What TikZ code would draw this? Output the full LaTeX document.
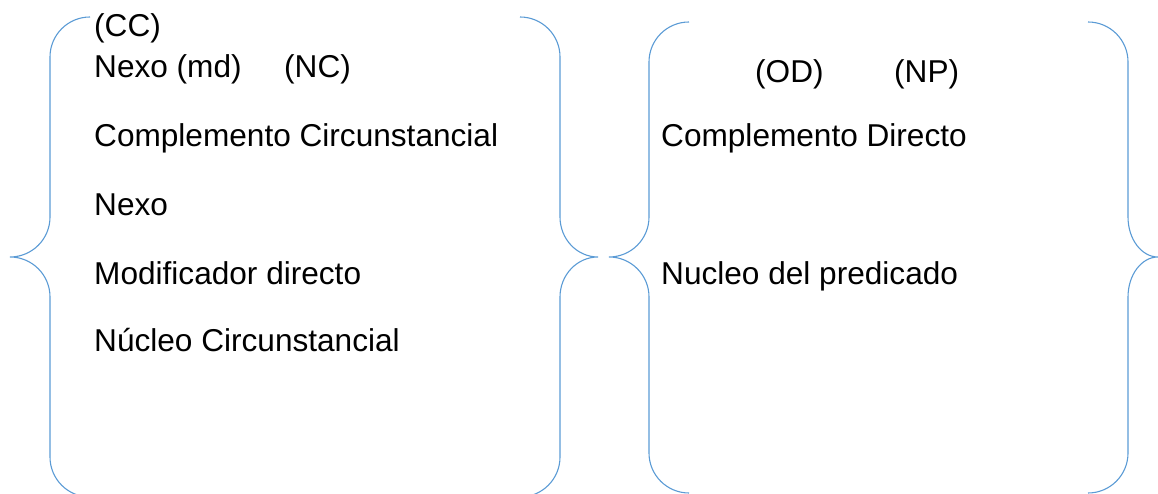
\documentclass[tikz,border=0pt]{standalone}
\usepackage{fontspec}
\setmainfont{Liberation Sans}
\usepackage{tikz}
\usetikzlibrary{positioning}
\definecolor{bracecol}{RGB}{91,155,213}

\begin{document}
\begin{tikzpicture}[x=1pt, y=1pt,
  brace/.style={draw=bracecol, line width=1.1pt},
  lbl/.style={inner sep=0pt, anchor=base west, font=\fontsize{31.6}{38}\selectfont}
]
\useasboundingbox (0,0) rectangle (1158,494);

% braces: x of the stem / direction / top / bottom / tip width
\foreach \x/\d/\t/\b/\w in {50/1/477/-3/40, 560/-1/477/-3/38, 649/1/472/1/40, 1128/-1/472/1/30} {
  \draw[brace] ({\x+40*\d},\t)
    arc[start angle=90, end angle={90+90*\d}, radius=40] -- (\x,277)
    arc[start angle={90-90*\d}, end angle={90-180*\d}, x radius=\w, y radius=40]
    arc[start angle=90, end angle={90-90*\d}, x radius=\w, y radius=40] -- (\x,{\b+40})
    arc[start angle={90+90*\d}, end angle={90+180*\d}, radius=40];
}

% left group
\node[lbl] (cc) at (94,457) {(CC)};
\node[lbl, below=41pt of cc.base west, anchor=base west] (nexomd) {Nexo (md)};
\node[lbl] (nc) at (284,416) {(NC)};
\node[lbl, below=69pt of nexomd.base west, anchor=base west] (cci) {Complemento Circunstancial};
\node[lbl, below=69pt of cci.base west, anchor=base west] (nexo) {Nexo};
\node[lbl, below=69pt of nexo.base west, anchor=base west] (mdir) {Modificador directo};
\node[lbl, below=67pt of mdir.base west, anchor=base west] (nci) {Núcleo Circunstancial};

% right group
\node[lbl] (cd) at (661,347) {Complemento Directo};
\node[lbl] (od) at (755,411) {(OD)};
\node[lbl] (np) at (894,411) {(NP)};
\node[lbl, below=138pt of cd.base west, anchor=base west] (ndp) {Nucleo del predicado};
\end{tikzpicture}
\end{document}
